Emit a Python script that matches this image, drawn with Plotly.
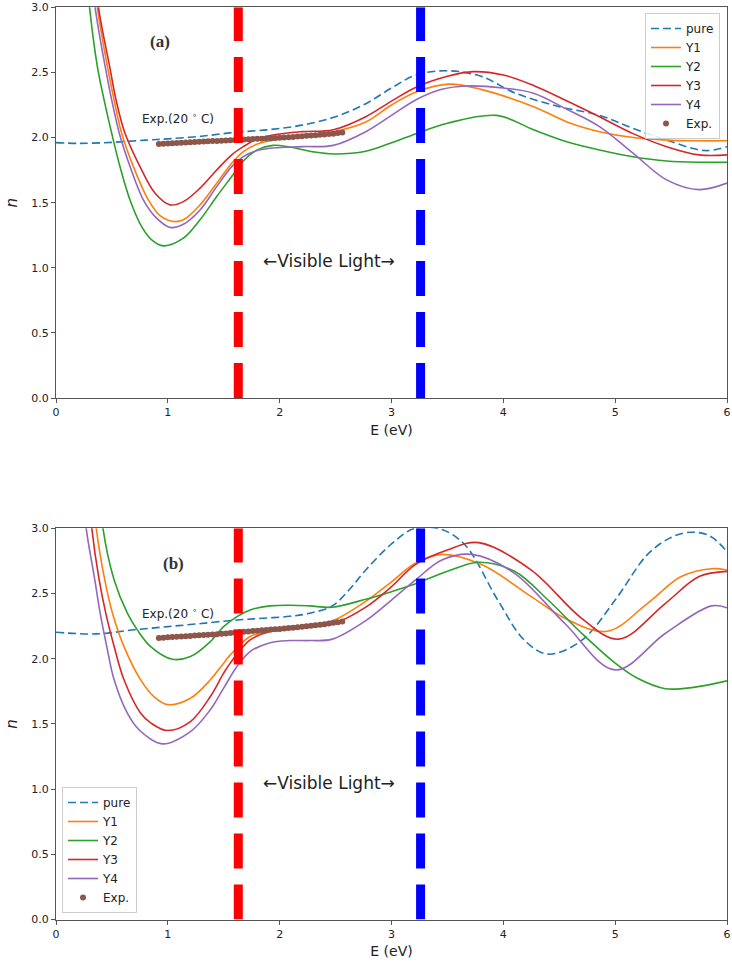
import plotly.graph_objects as go

# ---------------- data: refractive index n vs photon energy E (eV) ----------------
SERIES_NAMES = ["pure", "Y1", "Y2", "Y3", "Y4"]
SERIES_COLORS = ["#1f77b4", "#ff7f0e", "#2ca02c", "#d62728", "#9467bd"]
EXP_COLOR = "#8c564b"

# panel (a)
pure_a_E = [0, 0.2, 0.5, 0.8, 1.0, 1.3, 1.6, 1.9, 2.2, 2.5, 2.77, 3.0, 3.22, 3.5, 3.8, 4.11, 4.5, 4.86, 5.16, 5.46, 5.8, 6.0]
pure_a_n = [1.961, 1.955, 1.963, 1.98, 1.99, 2.01, 2.04, 2.06, 2.095, 2.16, 2.26, 2.38, 2.48, 2.513, 2.47, 2.34, 2.237, 2.17, 2.07, 1.98, 1.90, 1.93]

y1_a_E = [0.34, 0.37, 0.46, 0.519, 0.587, 0.692, 0.826, 0.93, 1.05, 1.139, 1.288, 1.437, 1.571, 1.675, 1.8, 1.94,
          2.2, 2.48, 2.77, 3.0, 3.22, 3.51, 3.8, 4.27, 4.6, 4.86, 5.16, 5.46, 5.75, 6.0]
y1_a_n = [3.3, 3.0, 2.544, 2.289, 2.033, 1.777, 1.521, 1.40, 1.355, 1.368, 1.483, 1.649, 1.803, 1.892, 1.95, 1.98,
          2.015, 2.045, 2.12, 2.25, 2.35, 2.41, 2.37, 2.237, 2.11, 2.045, 2.00, 1.98, 1.975, 1.975]

y2_a_E = [0.27, 0.30, 0.37, 0.43, 0.498, 0.572, 0.662, 0.766, 0.856, 0.96, 1.139, 1.288, 1.437, 1.571, 1.675, 1.8,
          1.94, 2.1, 2.3, 2.48, 2.77, 3.0, 3.22, 3.5, 3.94, 4.27, 4.56, 4.86, 5.16, 5.46, 5.75, 6.0]
y2_a_n = [3.3, 3.0, 2.544, 2.289, 2.033, 1.777, 1.521, 1.316, 1.214, 1.168, 1.227, 1.368, 1.547, 1.70, 1.82, 1.905,
          1.94, 1.925, 1.89, 1.874, 1.895, 1.96, 2.03, 2.11, 2.17, 2.06, 1.97, 1.905, 1.853, 1.82, 1.81, 1.81]

y3_a_E = [0.35, 0.38, 0.48, 0.537, 0.617, 0.751, 0.886, 1.02, 1.139, 1.288, 1.437, 1.571, 1.675, 1.8, 1.94, 2.2,
          2.48, 2.77, 3.0, 3.22, 3.5, 3.73, 4.0, 4.27, 4.56, 4.86, 5.16, 5.46, 5.75, 6.0]
y3_a_n = [3.3, 3.0, 2.544, 2.289, 2.033, 1.777, 1.572, 1.483, 1.508, 1.611, 1.751, 1.867, 1.93, 1.99, 2.02, 2.045,
          2.06, 2.16, 2.28, 2.386, 2.47, 2.506, 2.48, 2.40, 2.285, 2.16, 2.03, 1.93, 1.867, 1.867]

y4_a_E = [0.32, 0.35, 0.44, 0.498, 0.566, 0.662, 0.781, 0.886, 1.02, 1.139, 1.288, 1.437, 1.571, 1.675, 1.8, 1.94,
          2.2, 2.48, 2.77, 3.0, 3.22, 3.45, 3.67, 4.0, 4.27, 4.56, 4.86, 5.16, 5.46, 5.75, 6.0]
y4_a_n = [3.3, 3.0, 2.544, 2.289, 2.033, 1.777, 1.521, 1.393, 1.31, 1.334, 1.444, 1.623, 1.777, 1.853, 1.90, 1.92,
          1.93, 1.94, 2.045, 2.17, 2.29, 2.37, 2.396, 2.38, 2.34, 2.22, 2.084, 1.88, 1.675, 1.60, 1.65]

# panel (b)
pure_b_E = [0, 0.36, 0.7, 1.0, 1.3, 1.618, 1.85, 2.09, 2.27, 2.47, 2.62, 2.77, 3.0, 3.21, 3.45, 3.66, 3.95, 4.19,
            4.40, 4.70, 5.0, 5.29, 5.5, 5.68, 5.85, 6.0]
pure_b_n = [2.203, 2.19, 2.222, 2.246, 2.27, 2.297, 2.31, 2.325, 2.349, 2.405, 2.527, 2.68, 2.88, 3.0, 2.99, 2.87, 2.45, 2.14,
            2.035, 2.14, 2.45, 2.80, 2.93, 2.97, 2.94, 2.82]

y1_b_E = [0.33, 0.36, 0.436, 0.505, 0.608, 0.757, 0.875, 1.0, 1.202, 1.38, 1.499, 1.558, 1.736, 1.915, 2.093, 2.27,
          2.47, 2.77, 3.0, 3.21, 3.45, 3.81, 4.25, 4.55, 4.93, 5.29, 5.59, 5.86, 6.0]
y1_b_n = [3.3, 3.0, 2.604, 2.349, 2.093, 1.838, 1.71, 1.648, 1.697, 1.838, 1.966, 2.029, 2.17, 2.208, 2.226, 2.26,
          2.29, 2.44, 2.59, 2.73, 2.80, 2.72, 2.476, 2.31, 2.21, 2.425, 2.63, 2.69, 2.68]

y2_b_E = [0.39, 0.42, 0.52, 0.638, 0.727, 0.846, 1.04, 1.202, 1.38, 1.499, 1.618, 1.736, 1.915, 2.093, 2.27, 2.47,
          2.77, 3.0, 3.21, 3.5, 3.78, 4.1, 4.40, 4.70, 5.0, 5.2, 5.45, 5.7, 6.0]
y2_b_n = [3.3, 3.0, 2.604, 2.349, 2.221, 2.093, 1.996, 2.016, 2.131, 2.246, 2.323, 2.374, 2.405, 2.41, 2.405, 2.395,
          2.456, 2.514, 2.573, 2.67, 2.74, 2.67, 2.45, 2.195, 1.966, 1.85, 1.77, 1.78, 1.83]

y3_b_E = [0.29, 0.32, 0.386, 0.445, 0.52, 0.608, 0.757, 0.85, 0.995, 1.202, 1.38, 1.499, 1.558, 1.736, 1.915, 2.093,
          2.27, 2.47, 2.77, 3.0, 3.21, 3.5, 3.78, 4.25, 4.70, 5.03, 5.45, 5.75, 6.0]
y3_b_n = [3.3, 3.0, 2.604, 2.349, 2.093, 1.838, 1.582, 1.506, 1.449, 1.518, 1.71, 1.889, 1.966, 2.144, 2.208, 2.226,
          2.245, 2.265, 2.395, 2.553, 2.72, 2.834, 2.89, 2.68, 2.31, 2.15, 2.425, 2.63, 2.67]

y4_b_E = [0.24, 0.27, 0.347, 0.395, 0.454, 0.52, 0.638, 0.742, 0.95, 1.202, 1.38, 1.499, 1.618, 1.736, 1.915, 2.093,
          2.27, 2.47, 2.77, 3.0, 3.21, 3.45, 3.72, 4.10, 4.55, 5.0, 5.45, 5.86, 6.0]
y4_b_n = [3.3, 3.0, 2.604, 2.349, 2.093, 1.838, 1.582, 1.455, 1.347, 1.441, 1.608, 1.774, 1.94, 2.055, 2.123, 2.139,
          2.139, 2.15, 2.292, 2.45, 2.60, 2.757, 2.80, 2.655, 2.27, 1.914, 2.195, 2.405, 2.39]

# measured data at 20 C
exp_E = [0.92, 0.96, 1.00, 1.04, 1.08, 1.12, 1.16, 1.20, 1.24, 1.28, 1.32, 1.36, 1.40, 1.44,
         1.48, 1.52, 1.56, 1.60, 1.64, 1.68, 1.72, 1.76, 1.80, 1.84, 1.88, 1.92, 1.96, 2.00,
         2.04, 2.08, 2.12, 2.16, 2.20, 2.24, 2.28, 2.32, 2.36, 2.40, 2.44, 2.48, 2.52, 2.56]
exp_a_n = [1.950, 1.952, 1.954, 1.956, 1.958, 1.960, 1.961, 1.963, 1.965, 1.967, 1.969, 1.971, 1.973, 1.974,
           1.976, 1.978, 1.980, 1.982, 1.983, 1.985, 1.987, 1.988, 1.990, 1.991, 1.993, 1.995, 1.997, 1.999,
           2.001, 2.003, 2.005, 2.008, 2.010, 2.013, 2.015, 2.018, 2.021, 2.024, 2.027, 2.030, 2.034, 2.038]
exp_b_n = [2.158, 2.161, 2.164, 2.167, 2.169, 2.171, 2.173, 2.175, 2.177, 2.179, 2.181, 2.184, 2.186, 2.188,
           2.191, 2.194, 2.197, 2.201, 2.204, 2.207, 2.209, 2.212, 2.215, 2.218, 2.220, 2.223, 2.225, 2.228,
           2.231, 2.235, 2.238, 2.242, 2.245, 2.249, 2.253, 2.257, 2.261, 2.265, 2.270, 2.275, 2.280, 2.285]

# visible-light window (eV) and axis ranges
VIS_BOUNDS_EV = [1.63, 3.26]
VIS_COLORS = ["#ff0000", "#0000ff"]
E_RANGE = [0, 6]
N_RANGE = [0, 3]
E_TICKS = [0, 1, 2, 3, 4, 5, 6]
N_TICKS = [0.0, 0.5, 1.0, 1.5, 2.0, 2.5, 3.0]

panels = [
    dict(tag="(a)", xa="x", ya="y", legend="legend",
         curves=[(pure_a_E, pure_a_n), (y1_a_E, y1_a_n), (y2_a_E, y2_a_n), (y3_a_E, y3_a_n), (y4_a_E, y4_a_n)],
         exp=exp_a_n, tag_pos=(0.93, 2.74), exp_label_pos=(1.09, 2.15)),
    dict(tag="(b)", xa="x2", ya="y2", legend="legend2",
         curves=[(pure_b_E, pure_b_n), (y1_b_E, y1_b_n), (y2_b_E, y2_b_n), (y3_b_E, y3_b_n), (y4_b_E, y4_b_n)],
         exp=exp_b_n, tag_pos=(1.05, 2.73), exp_label_pos=(1.09, 2.35)),
]

FONT = "DejaVu Sans"
TEXT_COLOR = "#222"
fig = go.Figure()
annotations = []

for p in panels:
    for name, color, (ex, ny) in zip(SERIES_NAMES, SERIES_COLORS, p["curves"]):
        fig.add_trace(go.Scatter(
            x=ex, y=ny, mode="lines", name=name, xaxis=p["xa"], yaxis=p["ya"],
            legend=p["legend"], cliponaxis=True,
            line=dict(color=color, width=1.6, shape="spline", smoothing=1.0,
                      dash="8px,4px" if name == "pure" else "solid"),
        ))
    fig.add_trace(go.Scatter(
        x=exp_E, y=p["exp"], mode="markers", name="Exp.", xaxis=p["xa"], yaxis=p["ya"],
        legend=p["legend"], marker=dict(color=EXP_COLOR, size=6, line=dict(width=0)),
    ))
    # visible-light boundaries
    for ev, col in zip(VIS_BOUNDS_EV, VIS_COLORS):
        fig.add_trace(go.Scatter(
            x=[ev, ev], y=N_RANGE, mode="lines", showlegend=False, xaxis=p["xa"], yaxis=p["ya"],
            line=dict(color=col, width=9, dash="35px,16px"), hoverinfo="skip",
        ))
    annotations.append(dict(
        x=p["tag_pos"][0], y=p["tag_pos"][1], xref=p["xa"], yref=p["ya"], text="<b>" + p["tag"] + "</b>",
        showarrow=False, font=dict(family="Liberation Serif", size=17, color="#333"),
    ))
    annotations.append(dict(
        x=p["exp_label_pos"][0], y=p["exp_label_pos"][1], xref=p["xa"], yref=p["ya"],
        text="Exp.(20 <sup>∘</sup> C)", showarrow=False, font=dict(family=FONT, size=12, color=TEXT_COLOR),
    ))
    annotations.append(dict(
        x=sum(VIS_BOUNDS_EV) / 2, y=1.05, xref=p["xa"], yref=p["ya"],
        text="←Visible Light→", showarrow=False, font=dict(family=FONT, size=17, color=TEXT_COLOR),
    ))

W, H = 732, 968
x_dom = [56 / W, 727 / W]
axis_common = dict(
    showgrid=False, zeroline=False, showline=True, mirror=True, linecolor="#555", linewidth=1,
    ticks="outside", ticklen=4, tickcolor="#555", automargin=False,
    tickfont=dict(family=FONT, size=11, color=TEXT_COLOR),
)

legend_common = dict(
    bgcolor="rgba(255,255,255,0.85)", bordercolor="#cccccc", borderwidth=1,
    font=dict(family=FONT, size=12, color=TEXT_COLOR), tracegroupgap=0, itemwidth=30,
)

x_title = dict(text="E (eV)", font=dict(family=FONT, size=14, color=TEXT_COLOR), standoff=6)
y_title = dict(text="<i>n</i>", font=dict(family=FONT, size=15, color=TEXT_COLOR), standoff=10)

fig.update_layout(
    width=W, height=H, margin=dict(l=0, r=0, t=0, b=0),
    paper_bgcolor="white", plot_bgcolor="white",
    xaxis=dict(domain=x_dom, anchor="y", range=E_RANGE, tickvals=E_TICKS, title=x_title, **axis_common),
    yaxis=dict(domain=[1 - 398 / H, 1 - 7.3 / H], anchor="x", range=N_RANGE, tickvals=N_TICKS,
               tickformat=".1f", title=y_title, **axis_common),
    xaxis2=dict(domain=x_dom, anchor="y2", range=E_RANGE, tickvals=E_TICKS, title=x_title, **axis_common),
    yaxis2=dict(domain=[1 - 919.5 / H, 1 - 528.3 / H], anchor="x2", range=N_RANGE, tickvals=N_TICKS,
                tickformat=".1f", title=y_title, **axis_common),
    legend=dict(x=720 / W, y=1 - 13 / H, xanchor="right", yanchor="top", **legend_common),
    legend2=dict(x=62 / W, y=1 - 913 / H, xanchor="left", yanchor="bottom", **legend_common),
    annotations=annotations,
    showlegend=True,
)

fig.write_html("out.html")
